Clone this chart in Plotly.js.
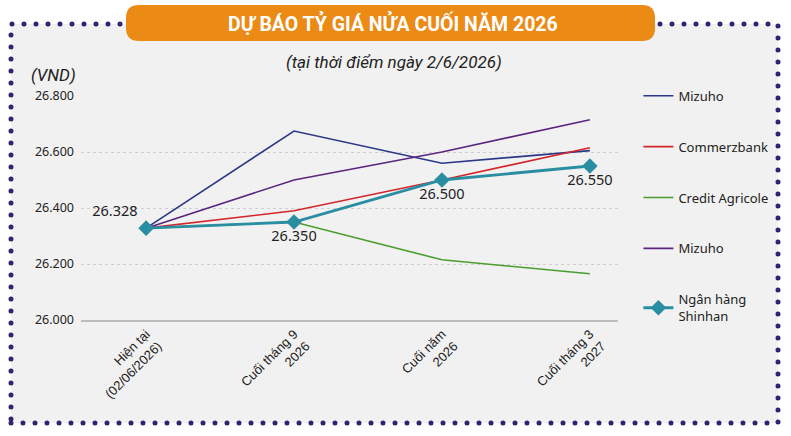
<!DOCTYPE html>
<html>
<head>
<meta charset="utf-8">
<script src="https://cdn.plot.ly/plotly-3.0.1.min.js"></script>
<style>
html,body{margin:0;padding:0;background:#ffffff;}
#chart{width:791px;height:436px;}
.shapelayer path{stroke-linecap:round;}
</style>
</head>
<body>
<div id="chart"></div>
<script>
// ---- data ----
const categories = ['Hiện tại<br>(02/06/2026)', 'Cuối tháng 9<br>2026', 'Cuối năm<br>2026', 'Cuối tháng 3<br>2027'];
const seriesNames = ['Mizuho', 'Commerzbank', 'Credit Agricole', 'Mizuho', 'Ngân hàng<br>Shinhan'];
const mizuhoA = [26328, 26675, 26560, 26605];
const commerzbank = [26328, 26390, 26500, 26615];
const creditAgricole = [26328, 26350, 26215, 26165];
const mizuhoB = [26328, 26500, 26600, 26715];
const shinhan = [26328, 26350, 26500, 26550];
const yTicks = [26000, 26200, 26400, 26600, 26800];

const W = 791, H = 436;
const M = {l: 81, r: 173, t: 96, b: 116};
const PW = W - M.l - M.r, PH = H - M.t - M.b;
const px = x => (x - M.l) / PW;
const py = y => (H - M.b - y) / PH;

function roundRect(x0, y0, x1, y1, r) {
  const p = (x, y) => px(x).toFixed(5) + ',' + py(y).toFixed(5);
  return 'M' + p(x0 + r, y0) + ' L' + p(x1 - r, y0) + ' Q' + p(x1, y0) + ' ' + p(x1, y0 + r) +
    ' L' + p(x1, y1 - r) + ' Q' + p(x1, y1) + ' ' + p(x1 - r, y1) +
    ' L' + p(x0 + r, y1) + ' Q' + p(x0, y1) + ' ' + p(x0, y1 - r) +
    ' L' + p(x0, y0 + r) + ' Q' + p(x0, y0) + ' ' + p(x0 + r, y0) + ' Z';
}

const thin = (name, y, color, grp) => ({
  type: 'scatter', mode: 'lines', x: categories, y: y, name: name,
  legendgroup: grp, line: {color: color, width: 1.6}, hoverinfo: 'skip'
});

const traces = [
  thin(seriesNames[0], mizuhoA, '#2b3787', 'g1'),
  thin(seriesNames[1], commerzbank, '#d3262b', 'g2'),
  thin(seriesNames[2], creditAgricole, '#4a9e2f', 'g3'),
  thin(seriesNames[3], mizuhoB, '#5a2680', 'g4'),
  {
    type: 'scatter', mode: 'lines+markers+text', x: categories, y: shinhan, name: seriesNames[4],
    legendgroup: 'g5',
    line: {color: '#2a8ea2', width: 2.8},
    marker: {symbol: 'diamond', size: 12, color: '#2a8ea2'},
    texttemplate: '%{y:,.0f}',
    textposition: ['top left', 'bottom center', 'bottom center', 'bottom center'],
    textfont: {family: 'Noto Sans, sans-serif', size: 14.5, color: '#222222'},
    hoverinfo: 'skip'
  }
];

const layout = {
  width: W, height: H,
  margin: M,
  separators: ',.',
  paper_bgcolor: '#ffffff',
  plot_bgcolor: 'rgba(0,0,0,0)',
  showlegend: true,
  legend: {
    x: 1.038, xanchor: 'left', y: 1.068, yanchor: 'top',
    bgcolor: 'rgba(0,0,0,0)',
    font: {family: 'Noto Sans, sans-serif', size: 13, color: '#222222'},
    tracegroupgap: 31,
    traceorder: 'grouped',
    maxheight: 420
  },
  xaxis: {
    type: 'category',
    range: [-0.44, 3.19],
    showgrid: false,
    showline: true, linecolor: '#bdbdbd', linewidth: 1.5,
    ticks: '',
    tickangle: -45,
    tickfont: {family: 'Liberation Sans, Arial, sans-serif', size: 13, color: '#222222'},
    zeroline: false
  },
  yaxis: {
    range: [26000, 26800],
    tickvals: yTicks,
    tickformat: ',.0f',
    showgrid: true, gridcolor: '#cfcfcf', griddash: 'dot', gridwidth: 1,
    zeroline: false, showline: false, ticks: '',
    ticklabelstandoff: 6,
    tickfont: {family: 'Noto Sans, sans-serif', size: 12.5, color: '#222222'}
  },
  shapes: [
    {type: 'rect', xref: 'paper', yref: 'paper', layer: 'below',
     x0: px(11), x1: px(778), y0: py(423), y1: py(24),
     fillcolor: '#f1f1f1', line: {color: '#2d2571', width: 5, dash: '0px,12px'}},
    {type: 'path', xref: 'paper', yref: 'paper', layer: 'below',
     path: roundRect(126, 5, 655, 41, 13),
     fillcolor: '#ec8a16', line: {width: 0}}
  ],
  annotations: [
    {xref: 'paper', yref: 'paper', x: px(393), y: py(23), xanchor: 'center', yanchor: 'middle',
     showarrow: false, text: '<b>DỰ BÁO TỶ GIÁ NỬA CUỐI NĂM 2026</b>',
     font: {family: 'Roboto, sans-serif', size: 19.5, color: '#ffffff'}},
    {xref: 'paper', yref: 'paper', x: px(394), y: py(62), xanchor: 'center', yanchor: 'middle',
     showarrow: false, text: '<i>(tại thời điểm ngày 2/6/2026)</i>',
     font: {family: 'Roboto, sans-serif', size: 17, color: '#222222'}},
    {xref: 'paper', yref: 'paper', x: px(29), y: py(75), xanchor: 'left', yanchor: 'middle',
     showarrow: false, text: '<i>(VND)</i>',
     font: {family: 'Roboto, sans-serif', size: 17, color: '#222222'}}
  ]
};

Plotly.newPlot('chart', traces, layout, {displayModeBar: false, staticPlot: true});
</script>
</body>
</html>
